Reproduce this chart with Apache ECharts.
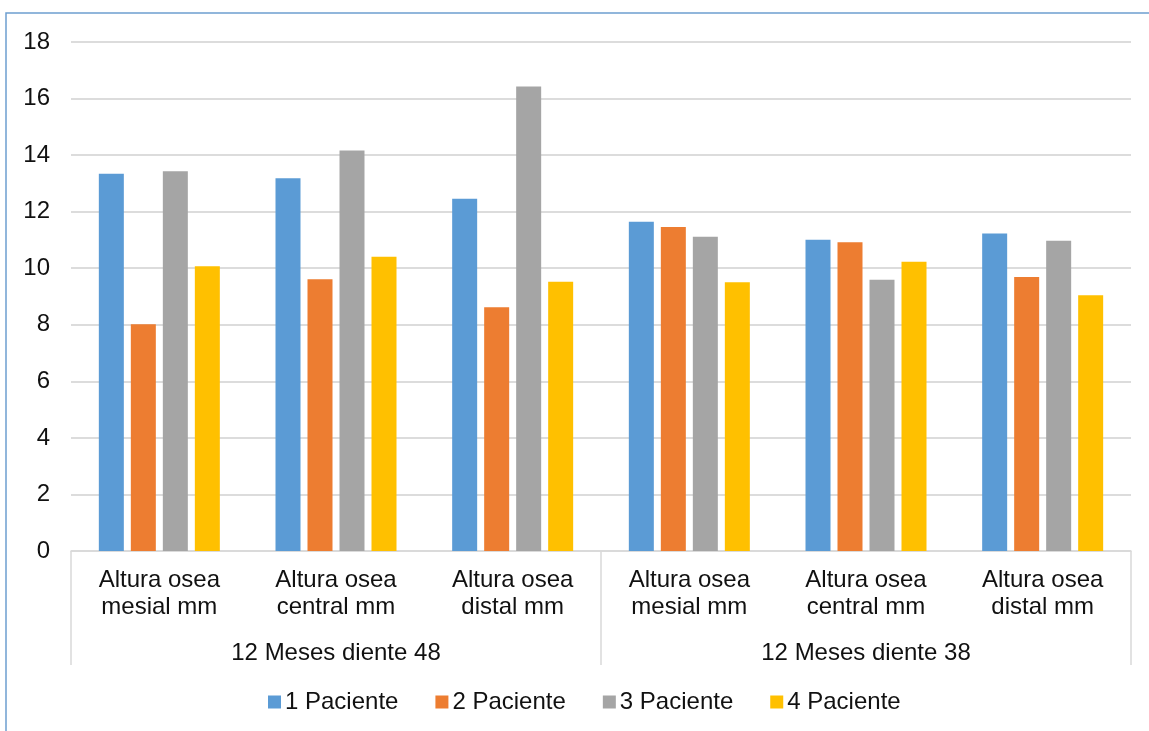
<!DOCTYPE html>
<html>
<head>
<meta charset="utf-8">
<script src="https://cdn.jsdelivr.net/npm/echarts@6/dist/echarts.min.js"></script>
<style>
  html, body { margin: 0; padding: 0; background: #fff; }
  #chart { width: 1149px; height: 731px; }
</style>
</head>
<body>
<div id="chart"></div>
<script>
// Bone height measurements, 12 months after surgery, per patient
const categories = [
  'Altura osea\nmesial mm', 'Altura osea\ncentral mm', 'Altura osea\ndistal mm',
  'Altura osea\nmesial mm', 'Altura osea\ncentral mm', 'Altura osea\ndistal mm'
];
const groups = ['12 Meses diente 48', '12 Meses diente 38'];
const seriesNames = ['1 Paciente', '2 Paciente', '3 Paciente', '4 Paciente'];
const paciente1 = [13.34, 13.18, 12.46, 11.64, 11.01, 11.23];
const paciente2 = [8.02, 9.61, 8.62, 11.46, 10.92, 9.69];
const paciente3 = [13.43, 14.16, 16.43, 11.11, 9.59, 10.97];
const paciente4 = [10.07, 10.41, 9.52, 9.50, 10.23, 9.04];
const yTicks = { min: 0, max: 18, interval: 2 };

const colors = ['#5b9bd5', '#ed7d31', '#a5a5a5', '#ffc000'];
const values = [paciente1, paciente2, paciente3, paciente4];
const textColor = '#111';
const fontFamily = 'Liberation Sans, Arial, sans-serif';
const fontSize = 24;

const chart = echarts.init(document.getElementById('chart'), null, { renderer: 'canvas' });
chart.setOption({
  animation: false,
  color: colors,
  textStyle: { fontFamily: fontFamily },
  graphic: [{
    type: 'rect',
    shape: { x: 6, y: 13, width: 1300, height: 900 },
    style: { fill: 'none', stroke: '#6d9fd0', lineWidth: 1.5 },
    silent: true
  }],
  grid: { left: 71, right: 18, top: 42, bottom: 180, containLabel: false },
  legend: {
    data: seriesNames,
    top: 685,
    left: 263,
    itemWidth: 13,
    itemHeight: 13,
    itemGap: 37,
    icon: 'rect',
    textStyle: { fontSize: fontSize, color: textColor, fontFamily: fontFamily, padding: [0, 0, 0, -1] }
  },
  xAxis: [{
    type: 'category',
    data: categories,
    position: 'bottom',
    axisLine: { show: true, lineStyle: { color: '#d9d9d9', width: 1.5 } },
    axisTick: { show: false },
    axisLabel: {
      interval: 0, margin: 16, fontSize: fontSize, lineHeight: 27,
      color: textColor, fontFamily: fontFamily
    },
    splitLine: { show: false }
  }, {
    type: 'category',
    data: groups,
    position: 'bottom',
    gridIndex: 0,
    axisLine: { show: false },
    axisTick: { show: true, length: 114, interval: 0, lineStyle: { color: '#d9d9d9', width: 1.5 } },
    axisLabel: {
      interval: 0, margin: 90, fontSize: fontSize,
      color: textColor, fontFamily: fontFamily
    },
    splitLine: { show: false }
  }],
  yAxis: {
    type: 'value',
    min: yTicks.min,
    max: yTicks.max,
    interval: yTicks.interval,
    axisLine: { show: false },
    axisTick: { show: false },
    axisLabel: {
      margin: 21, fontSize: fontSize, color: textColor, fontFamily: fontFamily,
      padding: [4, 0, 0, 0]
    },
    splitLine: { lineStyle: { color: '#dcdcdc', width: 2 } }
  },
  series: seriesNames.map((name, i) => ({
    name: name,
    type: 'bar',
    xAxisIndex: 0,
    data: values[i],
    barWidth: 25,
    barGap: '28%',
    itemStyle: { color: colors[i] }
  }))
});
</script>
</body>
</html>
